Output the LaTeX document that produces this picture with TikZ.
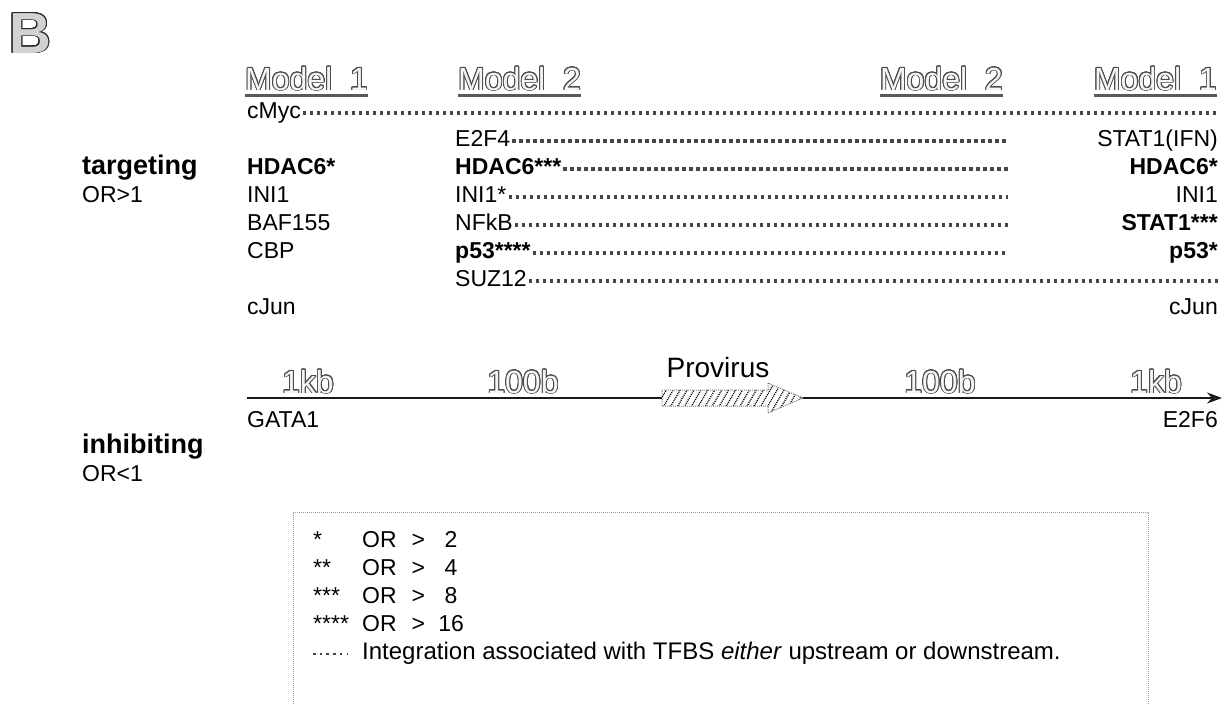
\documentclass[tikz,border=0pt]{standalone}
\usepackage{fontspec}
\setmainfont{Liberation Sans}
\usepackage{contour}
\contourlength{0.9pt}
\contournumber{24}
\usetikzlibrary{arrows, arrows.meta}
\usetikzlibrary{patterns.meta}
\newcommand\hollow[1]{\contour{gray!60!black}{\color{gray!8}#1}}
\newcommand\hollowB[1]{\contour{black!85}{\color{gray!35}#1}}

\begin{document}
\begin{tikzpicture}[x=1pt,y=-1pt,
  tf/.style={anchor=base west,inner sep=0pt,font=\fontsize{23}{23}\selectfont},
  tfr/.style={tf,anchor=base east},
  bt/.style={tf,font=\fontsize{23}{23}\selectfont\bfseries},
  btr/.style={bt,anchor=base east},
  side/.style={tf,font=\fontsize{27}{27}\selectfont\bfseries},
  head/.style={anchor=base west,inner sep=0pt,font=\fontsize{32}{32}\selectfont},
  uline/.style={line width=3pt,gray!70!black},
  dots/.style={line width=3.5pt,gray!55!black,dash pattern=on 3.2pt off 3.8pt},
  axis/.style={line width=2pt,gray!20!black,-{Stealth[length=15pt,width=11pt,fill=gray]}},
  prov/.style={draw=gray,densely dotted,line width=1pt,preaction={fill=white},
    pattern={Lines[angle=60,distance=6pt,line width=1.3pt]}},
  legbox/.style={draw=gray!80,densely dotted,line width=1pt}]
\useasboundingbox (0,0) rectangle (1224,704);

\coordinate (R) at (1220,0);
\coordinate (M) at (1008,0);

\node[tf,font=\fontsize{58}{58}\selectfont\bfseries] (B) at (9,53) {\hollowB{B}};

\node[head] (m1a) at (245,90) {\hollow{Model\ \ 1}};
\node[head] (m2a) at (458,90) {\hollow{Model\ \ 2}};
\node[head,anchor=base east] (m2b) at (1003,90) {\hollow{Model\ \ 2}};
\node[head,anchor=base east] (m1b) at (1217,90) {\hollow{Model\ \ 1}};
\foreach \m in {m1a,m2a,m2b,m1b}
  \draw[uline] ([yshift=-5pt]\m.base west) -- ([yshift=-5pt]\m.base east);

\node[tf] (cmyc) at (247,118) {cMyc};
\node[tf] (e2f4) at (455,146) {E2F4};
\node[tfr] (stat1ifn) at (1218,146) {STAT1(IFN)};
\node[side] (targ) at (82,174) {targeting};
\node[bt] (hdacl) at (247,174) {HDAC6*};
\node[bt] (hdacm) at (455,174) {HDAC6***};
\node[btr] (hdacr) at (1218,174) {HDAC6*};
\node[tf] (or1) at (82,202) {OR>1};
\node[tf] (inil) at (247,202) {INI1};
\node[tf] (inim) at (455,202) {INI1*};
\node[tfr] (inir) at (1218,202) {INI1};
\node[tf] (baf) at (247,230) {BAF155};
\node[tf] (nfkb) at (455,230) {NFkB};
\node[btr] (stat1r) at (1218,230) {STAT1***};
\node[tf] (cbp) at (247,258) {CBP};
\node[bt] (p53m) at (455,258) {p53****};
\node[btr] (p53r) at (1218,258) {p53*};
\node[tf] (suz) at (455,286) {SUZ12};
\node[tf] (cjunl) at (247,314) {cJun};
\node[tfr] (cjunr) at (1218,314) {cJun};

\foreach \n in {cmyc,suz}
  \draw[dots] ([xshift=2pt,yshift=5pt]\n.base east) -- ([yshift=5pt]\n.base east -| R);
\foreach \n in {e2f4,hdacm,inim,nfkb,p53m}
  \draw[dots] ([xshift=2pt,yshift=5pt]\n.base east) -- ([yshift=5pt]\n.base east -| M);

\coordinate (A) at (247,398);
\coordinate (E) at (1222,398);
\draw[axis] (A) -- (E);
\node[head,anchor=base] (kb1) at (308,393) {\hollow{1kb}};
\node[head,anchor=base] (hb1) at (523,393) {\hollow{100b}};
\node[head,anchor=base] (hb2) at (940,393) {\hollow{100b}};
\node[head,anchor=base] (kb2) at (1156,393) {\hollow{1kb}};

\draw[prov] (662,390) -- (768,390) -- (768,383) -- (803,398) -- (768,413) -- (768,406) -- (662,406) -- cycle;
\node[tf,anchor=base,font=\fontsize{28}{28}\selectfont] (prv) at (718,377) {Provirus};

\node[tf] (gata) at (247,427) {GATA1};
\node[tfr] (e2f6) at (1218,427) {E2F6};
\node[side] (inh) at (82,453) {inhibiting};
\node[tf] (or2) at (82,481) {OR<1};

\draw[legbox] (293,704) |- (1148,512) -- (1148,704);
\foreach \i/\s/\v/\y in {1/*/2/547,2/**/4/575,3/***/8/603,4/****/16/631}{
  \node[tf] (st\i) at (313,\y) {\s};
  \node[tf] (or\i) at (362,\y) {OR\hspace{15pt}>\hspace{13pt}\makebox[26pt][c]{\v}};
}
\coordinate (L1) at (313,654);
\coordinate (L2) at (347,654);
\draw[dots,line width=2.5pt,dash pattern=on 2.5pt off 4.2pt] (L1) -- (L2);
\node[tf,font=\fontsize{24}{24}\selectfont] (integ) at (362,659) {Integration associated with TFBS \textit{either} upstream or downstream.};

\end{tikzpicture}
\end{document}
